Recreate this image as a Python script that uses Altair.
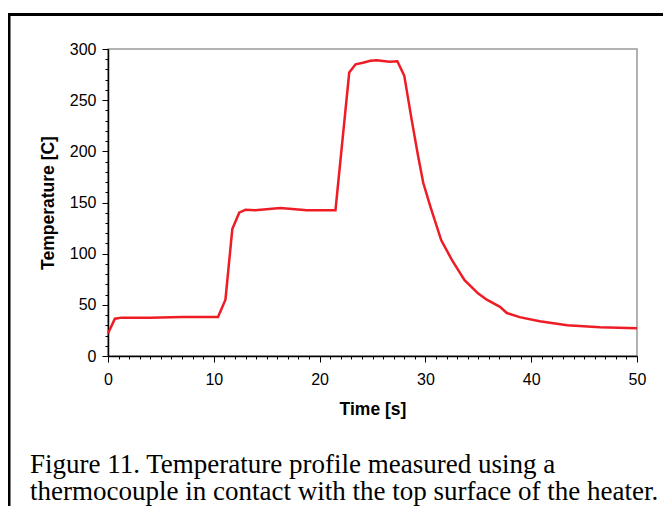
import altair as alt
import pandas as pd

# ---- data ----
time_s = [0, 0.65, 1.3, 4, 7, 10.4, 11.1, 11.75, 12.4, 13.0, 13.9, 16.3, 18.8, 21.5,
          22.8, 23.4, 24.1, 24.8, 25.4, 26.6, 27.35, 28.0, 28.7, 29.3, 29.8, 30.5,
          31.5, 32.5, 33.7, 35.0, 35.8, 37.05, 37.7, 38.9, 40.8, 43.4, 46.5, 50]
temp_c = [22, 36.5, 37.5, 37.5, 38, 38, 55, 124, 140, 143, 142.5, 144.5, 142.5, 142.5,
          277, 285, 286.5, 288.5, 289, 287.5, 288, 274, 231, 196, 169, 145,
          113, 94, 74, 61, 55, 48, 42, 38, 34, 30, 28, 27]

x_ticks = list(range(0, 51, 1))
y_ticks = list(range(0, 301, 10))

x_title = "Time [s]"
y_title = "Temperature [C]"
caption = ["Figure 11. Temperature profile measured using a",
           "thermocouple in contact with the top surface of the heater."]

df = pd.DataFrame({"t": time_s, "T": temp_c})

W, H = 529, 307
PAD_L, PAD_T, PAD_R, PAD_B = 100, 41, 26, 150

axis_common = dict(
    grid=False,
    domainColor="black",
    domainWidth=1.5,
    tickColor="black",
    tickWidth=1,
    labelFont="Liberation Sans",
    labelFontSize=16,
    labelColor="black",
    titleFont="Liberation Sans",
    titleFontSize=17.5,
    titleFontWeight="bold",
    titleColor="black",
)

line = alt.Chart(df).mark_line(color="#EE1C25", strokeWidth=2.5).encode(
    x=alt.X("t:Q", scale=alt.Scale(domain=[0, 50], nice=False),
            axis=alt.Axis(values=x_ticks, title=x_title, labelFlush=False,
                          labelExpr="datum.value % 10 === 0 ? datum.label : ''",
                          tickSize={"condition": {"test": "datum.value % 10 === 0", "value": 6}, "value": 3},
                          labelPadding=9, titlePadding=13, **axis_common)),
    y=alt.Y("T:Q", scale=alt.Scale(domain=[0, 300], nice=False),
            axis=alt.Axis(values=y_ticks, title=y_title, labelFlush=False,
                          labelExpr="datum.value % 50 === 0 ? datum.label : ''",
                          tickSize={"condition": {"test": "datum.value % 50 === 0", "value": 6}, "value": 3},
                          labelPadding=6, titlePadding=12, **axis_common)),
)

frame_top = alt.Chart(alt.Data(values=[{"k": 1}])).mark_rule(
    color="black", strokeWidth=3, strokeCap="square").encode(
    x=alt.value(-99), x2=alt.value(700), y=alt.value(-34.5))
frame_left = alt.Chart(alt.Data(values=[{"k": 1}])).mark_rule(
    color="black", strokeWidth=3, strokeCap="square").encode(
    x=alt.value(-99), y=alt.value(-34.5), y2=alt.value(600))

cap_text = alt.Chart(alt.Data(values=[{"k": 1}])).mark_text(
    align="left", baseline="alphabetic", font="Liberation Serif", fontSize=27,
    lineHeight=27, color="black").encode(
    x=alt.value(-78), y=alt.value(424), text=alt.value(caption))

chart = alt.layer(line, frame_top, frame_left, cap_text).properties(
    width=W, height=H,
    autosize=alt.AutoSizeParams(type="none"),
    padding={"left": PAD_L, "top": PAD_T, "right": PAD_R, "bottom": PAD_B},
    background="white",
).configure_view(stroke="#999999", strokeWidth=1.5)

chart.save("out.html", embed_options={"renderer": "svg", "actions": False})
